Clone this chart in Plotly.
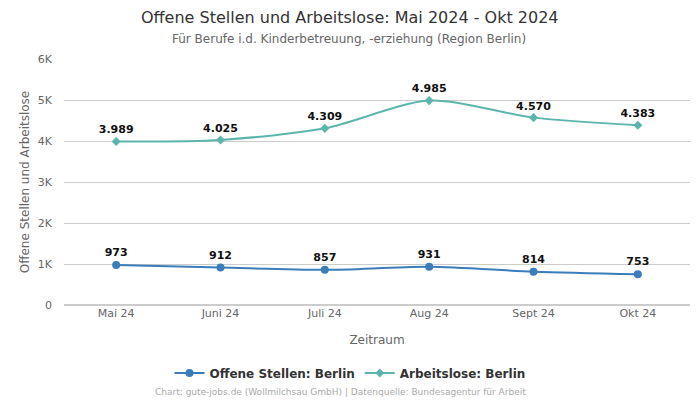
import plotly.graph_objects as go

months = ["Mai 24", "Juni 24", "Juli 24", "Aug 24", "Sept 24", "Okt 24"]
offene = [973, 912, 857, 931, 814, 753]
arbeitslose = [3989, 4025, 4309, 4985, 4570, 4383]
ytickvals = [0, 1000, 2000, 3000, 4000, 5000, 6000]
yticktext = ["0", "1K", "2K", "3K", "4K", "5K", "6K"]

def fmt(v):
    return f"{v:,}".replace(",", ".")

FONT = "DejaVu Sans"
blue = "#3a7dba"
teal = "#5cb5ac"

fig = go.Figure()
fig.add_trace(go.Scatter(
    x=months, y=offene, name="Offene Stellen: Berlin",
    mode="lines+markers+text", line=dict(color=blue, width=2, shape="spline", smoothing=0.8),
    marker=dict(size=8, color=blue, symbol="circle"),
    text=[fmt(v) for v in offene], textposition="top center",
    textfont=dict(family=FONT, size=11, color="#111111", weight="bold"),
    cliponaxis=False,
))
fig.add_trace(go.Scatter(
    x=months, y=arbeitslose, name="Arbeitslose: Berlin",
    mode="lines+markers+text", line=dict(color=teal, width=2, shape="spline", smoothing=0.8),
    marker=dict(size=7, color=teal, symbol="diamond"),
    text=[fmt(v) for v in arbeitslose], textposition="top center",
    textfont=dict(family=FONT, size=11, color="#111111", weight="bold"),
    cliponaxis=False,
))

# page has an 8px body margin: figure coords = page coords - 8
OFF = 8
PH = 246.0
def py(pix):
    return (305 - pix) / PH
def px(pix):
    return (pix - 64) / 626.0

fig.update_layout(
    width=700 - OFF, height=400 - OFF,
    paper_bgcolor="white", plot_bgcolor="white",
    font=dict(family=FONT, color="#666666", size=11),
    margin=dict(l=64 - OFF, r=10, t=59 - OFF, b=95, autoexpand=False),
    xaxis=dict(
        title=dict(text="Zeitraum", font=dict(size=12, color="#666666"), standoff=16),
        showgrid=False, showline=False, ticks="", tickfont=dict(size=11, color="#666666"),
        range=[-0.5, 5.5], automargin=False,
    ),
    yaxis=dict(
        title=dict(text="Offene Stellen und Arbeitslose", font=dict(size=12, color="#666666"), standoff=5),
        range=[0, 6000], tickvals=ytickvals, ticktext=yticktext,
        showgrid=True, gridcolor="#cccccc", gridwidth=1, zeroline=True, zerolinecolor="#cccccc",
        tickfont=dict(size=11, color="#666666"), ticks="", ticklen=0, automargin=False,
        ticklabelstandoff=11,
    ),
    legend=dict(
        orientation="h", x=px(350), xanchor="center", y=py(373), yanchor="middle",
        font=dict(family=FONT, size=12, color="#333333", weight="bold"),
    ),
    annotations=[
        dict(text="Offene Stellen und Arbeitslose: Mai 2024 - Okt 2024",
             xref="paper", yref="paper", x=px(350), y=py(17), xanchor="center", yanchor="middle",
             showarrow=False, font=dict(family=FONT, size=16, color="#333333")),
        dict(text="Für Berufe i.d. Kinderbetreuung, -erziehung (Region Berlin)",
             xref="paper", yref="paper", x=px(349), y=py(39), xanchor="center", yanchor="middle",
             showarrow=False, font=dict(family=FONT, size=12, color="#666666")),
        dict(text="Chart: gute-jobs.de (Wollmilchsau GmbH) | Datenquelle: Bundesagentur für Arbeit",
             xref="paper", yref="paper", x=px(340), y=py(392), xanchor="center", yanchor="middle",
             showarrow=False, font=dict(family=FONT, size=9, color="#aaaaaa")),
    ],
)

fig.write_html("out.html")
